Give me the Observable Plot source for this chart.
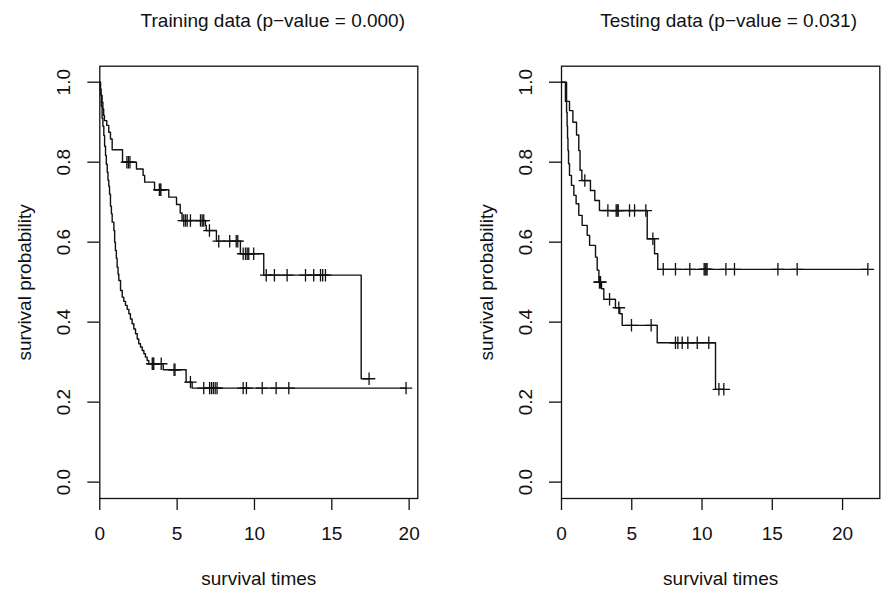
<!DOCTYPE html>
<html><head><meta charset="utf-8">
<script src="https://cdn.jsdelivr.net/npm/d3@7"></script>
<script src="https://cdn.jsdelivr.net/npm/@observablehq/plot@0.6"></script>
<style>
body{margin:0;background:#fff;}
#wrap{display:flex;width:893px;height:600px;}
</style></head><body><div id="wrap"></div>
<script>
// ---- tick labels and titles ----
const xTicks = [0, 5, 10, 15, 20];
const yTicks = [0, 0.2, 0.4, 0.6, 0.8, 1.0];
const panelTitles = ["Training data (p\u2212value = 0.000)", "Testing data (p\u2212value = 0.031)"];
const xLabel = "survival times";
const yLabel = "survival probability";

// ---- Training data: upper (low-risk) curve ----
const trainLowTimes = [0.03,0.08,0.15,0.2,0.25,0.3,0.45,0.58,0.69,0.8,1.47,2.37,2.8,2.9,3.54,4.46,4.96,5.2,5.32,6.83,6.88,7.54,9.09,10.6,16.9];
const trainLowSurv  = [0.983,0.967,0.95,0.933,0.917,0.904,0.892,0.875,0.858,0.831,0.80,0.783,0.767,0.75,0.731,0.7125,0.694,0.673,0.654,0.642,0.629,0.6025,0.571,0.5175,0.2585];
const trainLowCens  = [1.75,1.85,1.95,3.85,3.9,3.95,5.43,5.54,5.65,5.86,6.51,6.62,6.72,7.09,7.69,8.40,8.82,8.92,9.27,9.42,9.53,9.63,9.95,10.76,11.29,12.11,13.30,13.83,14.27,14.41,14.59,17.41];

// ---- Training data: lower (high-risk) curve ----
const trainHighTimes = [0.05,0.1,0.15,0.2,0.26,0.31,0.37,0.42,0.48,0.53,0.58,0.63,0.69,0.75,0.8,0.91,0.96,1.01,1.07,1.12,1.18,1.23,1.34,1.45,1.55,1.66,1.77,1.88,1.98,2.09,2.2,2.31,2.42,2.52,2.63,2.74,2.85,2.95,3.06,3.17,4.1,5.58,5.97];
const trainHighSurv  = [0.97,0.94,0.91,0.89,0.867,0.84,0.817,0.795,0.775,0.755,0.74,0.72,0.69,0.671,0.65,0.629,0.60,0.579,0.56,0.5375,0.52,0.504,0.479,0.4625,0.452,0.442,0.432,0.421,0.408,0.396,0.383,0.371,0.358,0.346,0.338,0.329,0.321,0.3125,0.304,0.296,0.281,0.25,0.235];
const trainHighCens  = [3.39,3.44,3.49,3.97,4.80,4.86,5.86,6.72,7.1,7.22,7.34,7.46,7.58,9.27,9.48,10.5,11.4,12.22,19.8];

// ---- Testing data: upper (low-risk) curve ----
const testLowTimes = [0.28,0.57,0.81,1.07,1.23,1.32,1.45,2.06,2.37,2.7,6.1,6.62,6.85];
const testLowSurv  = [0.952,0.929,0.90,0.868,0.829,0.78,0.754,0.729,0.704,0.679,0.6085,0.571,0.532];
const testLowCens  = [1.66,3.30,3.89,3.96,4.04,4.84,5.20,6.0,6.5,7.24,8.11,9.13,10.15,10.22,10.29,10.36,11.7,12.31,15.4,16.77,21.8];

// ---- Testing data: lower (high-risk) curve ----
const testHighTimes = [0.36,0.40,0.43,0.46,0.50,0.57,0.71,0.88,1.04,1.23,1.47,1.83,2.0,2.42,2.54,2.66,2.85,3.01,3.84,4.15,4.32,6.81,10.96];
const testHighSurv  = [0.925,0.89,0.86,0.83,0.796,0.767,0.742,0.717,0.696,0.667,0.642,0.617,0.592,0.5625,0.53,0.50,0.4835,0.457,0.436,0.421,0.392,0.3485,0.232];
const testHighCens  = [2.7,2.74,2.78,3.42,4.08,4.98,6.38,8.11,8.28,8.59,8.99,9.66,10.48,11.2,11.55];

// ---- helpers: build step-line table and censor marks from arrays ----
function survAt(times, surv, t) {
  let s = 1;
  for (let i = 0; i < times.length; i++) if (times[i] <= t) s = surv[i];
  return s;
}
function lineTable(times, surv, cens) {
  const pts = [{t: 0, s: 1}];
  times.forEach((t, i) => pts.push({t, s: surv[i]}));
  const end = Math.max(times[times.length - 1], cens[cens.length - 1]);
  pts.push({t: end, s: survAt(times, surv, end)});
  return pts;
}
function censTable(times, surv, cens) {
  return cens.map(t => ({t, s: survAt(times, surv, t)}));
}

const FONT = "'Liberation Sans', Arial, Helvetica, sans-serif";
const INK = "#111";

function panel({width, ml, mr, xmax, title, titleDx, groups}) {
  const marks = [
    Plot.frame({stroke: INK, strokeWidth: 1.3}),
    Plot.axisX({ticks: xTicks, tickSize: 12, tickPadding: 16, tickFormat: "d", label: null, stroke: INK, strokeWidth: 1.3, fill: INK}),
    Plot.axisY({ticks: yTicks, tickSize: 12, tickFormat: () => "", label: null, stroke: INK, strokeWidth: 1.3}),
    Plot.text(yTicks, {y: d => d, text: d => d3.format(".1f")(d), frameAnchor: "left", dx: -36, rotate: -90, textAnchor: "middle", lineAnchor: "middle", fill: INK}),
    Plot.text([yLabel], {frameAnchor: "left", dx: -75, rotate: -90, textAnchor: "middle", lineAnchor: "middle", fill: INK}),
    Plot.text([xLabel], {frameAnchor: "bottom", dy: 80, textAnchor: "middle", lineAnchor: "middle", fill: INK}),
    Plot.text([title], {frameAnchor: "top", dy: -45, dx: titleDx, textAnchor: "middle", lineAnchor: "middle", fill: INK})
  ];
  for (const g of groups) {
    marks.push(Plot.line(lineTable(g.times, g.surv, g.cens), {x: "t", y: "s", curve: "step-after", stroke: INK, strokeWidth: 1.4}));
    marks.push(Plot.dot(censTable(g.times, g.surv, g.cens), {x: "t", y: "s", symbol: "plus", r: 4.1, stroke: INK, strokeWidth: 1.3}));
  }
  return Plot.plot({
    width, height: 600,
    marginLeft: ml, marginRight: mr, marginTop: 65.7, marginBottom: 102,
    x: {domain: [0, xmax]},
    y: {domain: [-0.041, 1.04]},
    style: {fontFamily: FONT, fontSize: "19px", background: "#fff", color: INK},
    marks
  });
}

const wrap = document.getElementById("wrap");
wrap.appendChild(panel({
  width: 446, ml: 99.3, mr: 28.7, xmax: 20.56, title: panelTitles[0], titleDx: 14,
  groups: [
    {times: trainLowTimes, surv: trainLowSurv, cens: trainLowCens},
    {times: trainHighTimes, surv: trainHighSurv, cens: trainHighCens}
  ]
}));
wrap.appendChild(panel({
  width: 447, ml: 115, mr: 13.7, xmax: 22.65, title: panelTitles[1], titleDx: 8,
  groups: [
    {times: testLowTimes, surv: testLowSurv, cens: testLowCens},
    {times: testHighTimes, surv: testHighSurv, cens: testHighCens}
  ]
}));
</script></body></html>
